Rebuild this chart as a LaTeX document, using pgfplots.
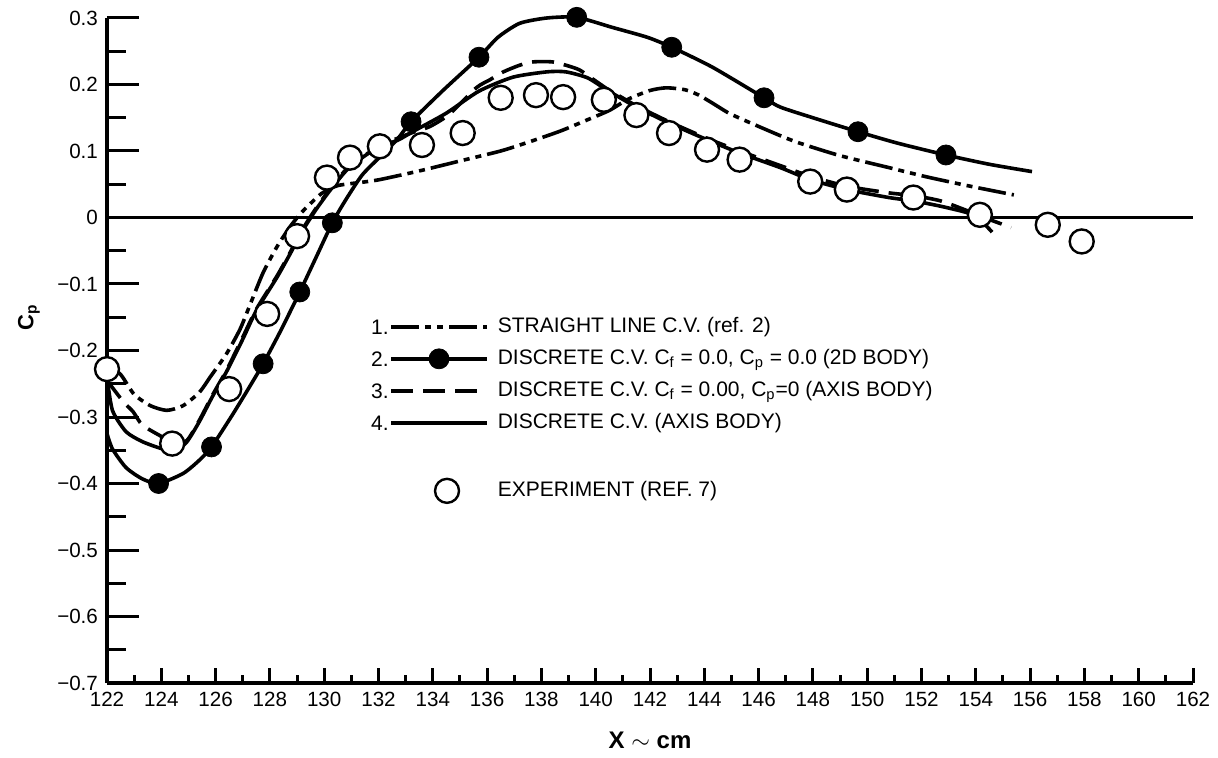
\documentclass[border=0pt]{standalone}
\usepackage{fontspec}
\setmainfont{Liberation Sans}
\usepackage{pgfplots}
\pgfplotsset{compat=1.18}
\tikzset{
  s1/.style={black, line width=1.8pt, dash pattern=on 14pt off 3pt on 3pt off 3pt on 3pt off 3pt},
  s2/.style={black, line width=1.8pt},
  s3/.style={black, line width=1.8pt, dash pattern=on 11pt off 5pt},
  s4/.style={black, line width=1.8pt},
}
\begin{document}
\begin{tikzpicture}
\useasboundingbox (-53.5pt,-37pt) rectangle (555.5pt,341.5pt);
% ---------- axis 1: y axis only ----------
\begin{axis}[
  at={(0pt,0pt)}, anchor=south west,
  width=543pt, height=332.5pt, scale only axis,
  xmin=122, xmax=162, ymin=-0.7, ymax=0.3,
  hide x axis,
  axis y line*=left,
  y axis line style={line width=2.4pt},
  ytick={-0.7,-0.6,-0.5,-0.4,-0.3,-0.2,-0.1,0,0.1,0.2,0.3},
  yticklabels={−0.7,−0.6,−0.5,−0.4,−0.3,−0.2,−0.1,0,0.1,0.2,0.3},
  minor ytick={-0.65,-0.55,-0.45,-0.35,-0.25,-0.15,-0.05,0.05,0.15,0.25},
  tick align=inside,
  major tick length=16pt, minor tick length=9.5pt,
  every tick/.style={black, line width=1.5pt},
  yticklabel style={font=\fontsize{10.3}{12}\selectfont, xshift=-1pt},
  clip=false,
]
\node[rotate=90, font=\bfseries\fontsize{11}{13}\selectfont] at ([xshift=-39pt]axis cs:122,-0.15) {C\textsubscript{p}};
\end{axis}
% ---------- axis 2: x axis and data ----------
\begin{axis}[
  at={(0pt,0pt)}, anchor=south west,
  width=543pt, height=332.5pt, scale only axis,
  xmin=122, xmax=162, ymin=-0.7, ymax=0.3,
  hide y axis,
  axis x line*=bottom,
  x axis line style={line width=2.4pt},
  xtick={122,124,...,162},
  minor xtick={123,125,...,161},
  tick align=inside,
  major tick length=7.5pt, minor tick length=4pt,
  every tick/.style={black, line width=1.5pt},
  /pgf/number format/assume math mode=true,
  xticklabel style={font=\fontsize{10.3}{12}\selectfont, yshift=-1pt},
  xlabel={X $\sim$ cm},
  xlabel style={font=\bfseries\fontsize{12}{14}\selectfont, yshift=-6pt},
  clip=false,
  legend cell align=left,
  legend style={at={(0.235,0.558)}, anchor=north west, draw=none, fill=none,
    inner sep=0pt, row sep=1.5pt, font=\fontsize{10.5}{12}\selectfont,
    nodes={text height=8.5pt, text depth=3pt, inner sep=1.5pt},
    /tikz/every odd column/.append style={column sep=3pt}},
]
% legend entries
\addlegendimage{legend image code/.code={\path (-14pt,0pt) (48pt,0pt);
  \node[anchor=base east, inner sep=0pt] at (-1pt,-3.6pt) {1.};
  \draw[s1] (0pt,0pt) -- (48pt,0pt);}}
\addlegendentry{STRAIGHT LINE C.V. (ref. 2)}
\addlegendimage{legend image code/.code={\path (-14pt,0pt) (48pt,0pt);
  \node[anchor=base east, inner sep=0pt] at (-1pt,-3.6pt) {2.};
  \draw[s2] (0pt,0pt) -- (48pt,0pt);
  \fill[black] (24pt,0pt) circle (5pt);}}
\addlegendentry{DISCRETE C.V. C\textsubscript{f} = 0.0, C\textsubscript{p} = 0.0 (2D BODY)}
\addlegendimage{legend image code/.code={\path (-14pt,0pt) (48pt,0pt);
  \node[anchor=base east, inner sep=0pt] at (-1pt,-3.6pt) {3.};
  \draw[s3] (0pt,0pt) -- (48pt,0pt);}}
\addlegendentry{DISCRETE C.V.  C\textsubscript{f} = 0.00, C\textsubscript{p}=0 (AXIS BODY)}
\addlegendimage{legend image code/.code={\path (-14pt,0pt) (48pt,0pt);
  \node[anchor=base east, inner sep=0pt] at (-1pt,-3.6pt) {4.};
  \draw[s4] (0pt,0pt) -- (48pt,0pt);}}
\addlegendentry{DISCRETE C.V. (AXIS BODY)}
\addlegendimage{empty legend}
\addlegendentry{}
\addlegendimage{legend image code/.code={\path (-14pt,0pt) (48pt,0pt);
  \draw[black, line width=1.2pt, fill=white] (28pt,-2pt) circle (6pt);}}
\addlegendentry{\raisebox{-2pt}{EXPERIMENT (REF. 7)}}

% zero line
\addplot[forget plot, black, line width=1.8pt] coordinates {(122,0) (162,0)};

% series 1: straight line C.V.
\addplot[forget plot, s1, smooth, tension=0.4] coordinates {
(122.0,-0.222) (122.5,-0.236) (123.0,-0.266) (123.6,-0.283) (124.2,-0.29)
(124.8,-0.283) (125.4,-0.263) (125.8,-0.24) (126.4,-0.205) (126.9,-0.168)
(127.3,-0.128) (127.75,-0.083) (128.26,-0.044) (128.74,-0.014) (129.2,0.009)
(129.9,0.036) (130.5,0.048) (131.4,0.053) (132.05,0.057) (133.5,0.07)
(135,0.085) (136.5,0.1) (137.5,0.113) (138.7,0.13) (139.7,0.147)
(140.5,0.161) (141.2,0.178) (142,0.191) (142.6,0.195) (143.3,0.192)
(143.8,0.184) (144.3,0.172) (144.9,0.157) (145.6,0.144) (146.8,0.123)
(147.5,0.112) (149,0.093) (150.8,0.075) (152.2,0.061) (153.8,0.047) (155.4,0.034)};

% series 3: discrete C.V. Cf=0.00, Cp=0 (axis body)
\addplot[forget plot, s3, smooth, tension=0.4] coordinates {
(122,-0.245) (122.6,-0.277) (122.96,-0.292) (123.3,-0.312) (123.95,-0.328)
(124.5,-0.34) (124.95,-0.335) (125.4,-0.305) (125.9,-0.266) (126.4,-0.23)
(127.0,-0.18) (127.5,-0.138) (128.26,-0.088) (128.74,-0.053) (129.2,-0.018)
(129.7,0.014) (130.2,0.042) (130.8,0.072) (131.4,0.092) (132.05,0.105)
(132.4,0.114) (133.2,0.127) (133.9,0.137) (134.6,0.155) (135.6,0.195)
(136.1,0.207) (136.6,0.219) (137.2,0.229) (137.7,0.234) (138.4,0.234)
(138.9,0.229) (139.4,0.222) (139.9,0.208) (140.4,0.194) (140.9,0.182)
(141.5,0.168) (142.7,0.144) (144.1,0.119) (145.3,0.1) (146.8,0.078)
(147.9,0.062) (149.25,0.047) (150.8,0.037) (151.7,0.033) (152.7,0.025)
(153.7,0.01) (154.5,-0.003) (155.3,-0.015)};

% series 4: discrete C.V. (axis body)
\addplot[forget plot, s4, smooth, tension=0.4] coordinates {
(122,-0.24) (122.2,-0.29) (122.7,-0.322) (123.3,-0.337) (124.06,-0.348)
(124.6,-0.348) (124.95,-0.337) (125.4,-0.307) (125.9,-0.268) (126.4,-0.232)
(127.0,-0.183) (127.5,-0.14) (128.26,-0.09) (128.74,-0.055) (129.2,-0.02)
(129.7,0.012) (130.2,0.04) (130.8,0.07) (131.4,0.09) (132.05,0.107)
(132.7,0.116) (133.3,0.13) (134.5,0.157) (135.7,0.19) (136.95,0.211)
(138.2,0.219) (138.9,0.219) (139.7,0.21) (140.4,0.192) (140.9,0.18)
(141.5,0.166) (142.7,0.142) (144.1,0.117) (145.3,0.097) (146.8,0.075)
(147.9,0.057) (149.25,0.042) (150.8,0.03) (151.7,0.025) (152.7,0.017)
(153.7,0.007) (154.15,-0.003) (154.6,-0.022)};

% series 2: discrete C.V. Cf=0.0, Cp=0.0 (2D body) - line
\addplot[forget plot, s2, smooth, tension=0.4] coordinates {
(122,-0.325) (122.2,-0.348) (122.7,-0.376) (123.3,-0.393) (123.9,-0.40)
(124.8,-0.385) (125.4,-0.365) (125.85,-0.345) (126.6,-0.298) (127.2,-0.258)
(127.75,-0.22) (128.4,-0.17) (129.1,-0.112) (129.7,-0.06) (130.3,-0.008)
(130.8,0.027) (131.4,0.064) (132.05,0.091) (132.7,0.118) (133.2,0.144)
(134.4,0.192) (135.7,0.241) (136.4,0.271) (137.2,0.292) (138.2,0.30)
(139.3,0.301) (140.6,0.286) (141.9,0.271) (142.8,0.256) (144.3,0.226)
(146.2,0.18) (146.8,0.166) (148.0,0.15) (149.66,0.129) (151.1,0.112)
(152.9,0.094) (154.5,0.08) (156.07,0.069)};
% series 2: computed points
\addplot[forget plot, only marks, mark=*, mark size=5pt, black] coordinates {
(123.9,-0.40) (125.85,-0.345) (127.75,-0.22) (129.1,-0.112) (130.3,-0.008)
(133.2,0.144) (135.7,0.241) (139.3,0.301) (142.8,0.256) (146.2,0.18)
(149.66,0.129) (152.9,0.094)};

% experiment
\addplot[forget plot, only marks, mark=*, mark size=6pt,
  mark options={fill=white, draw=black, line width=1.2pt}] coordinates {
(122.0,-0.228) (124.4,-0.34) (126.5,-0.258) (127.9,-0.145) (129.0,-0.028)
(130.1,0.06) (130.95,0.09) (132.05,0.107) (133.6,0.109) (135.1,0.127)
(136.5,0.18) (137.8,0.184) (138.8,0.181) (140.3,0.177) (141.5,0.154)
(142.7,0.127) (144.1,0.102) (145.3,0.087) (147.9,0.054) (149.25,0.042)
(151.7,0.03) (154.15,0.004) (156.65,-0.011) (157.9,-0.036)};
\end{axis}
\end{tikzpicture}
\end{document}
